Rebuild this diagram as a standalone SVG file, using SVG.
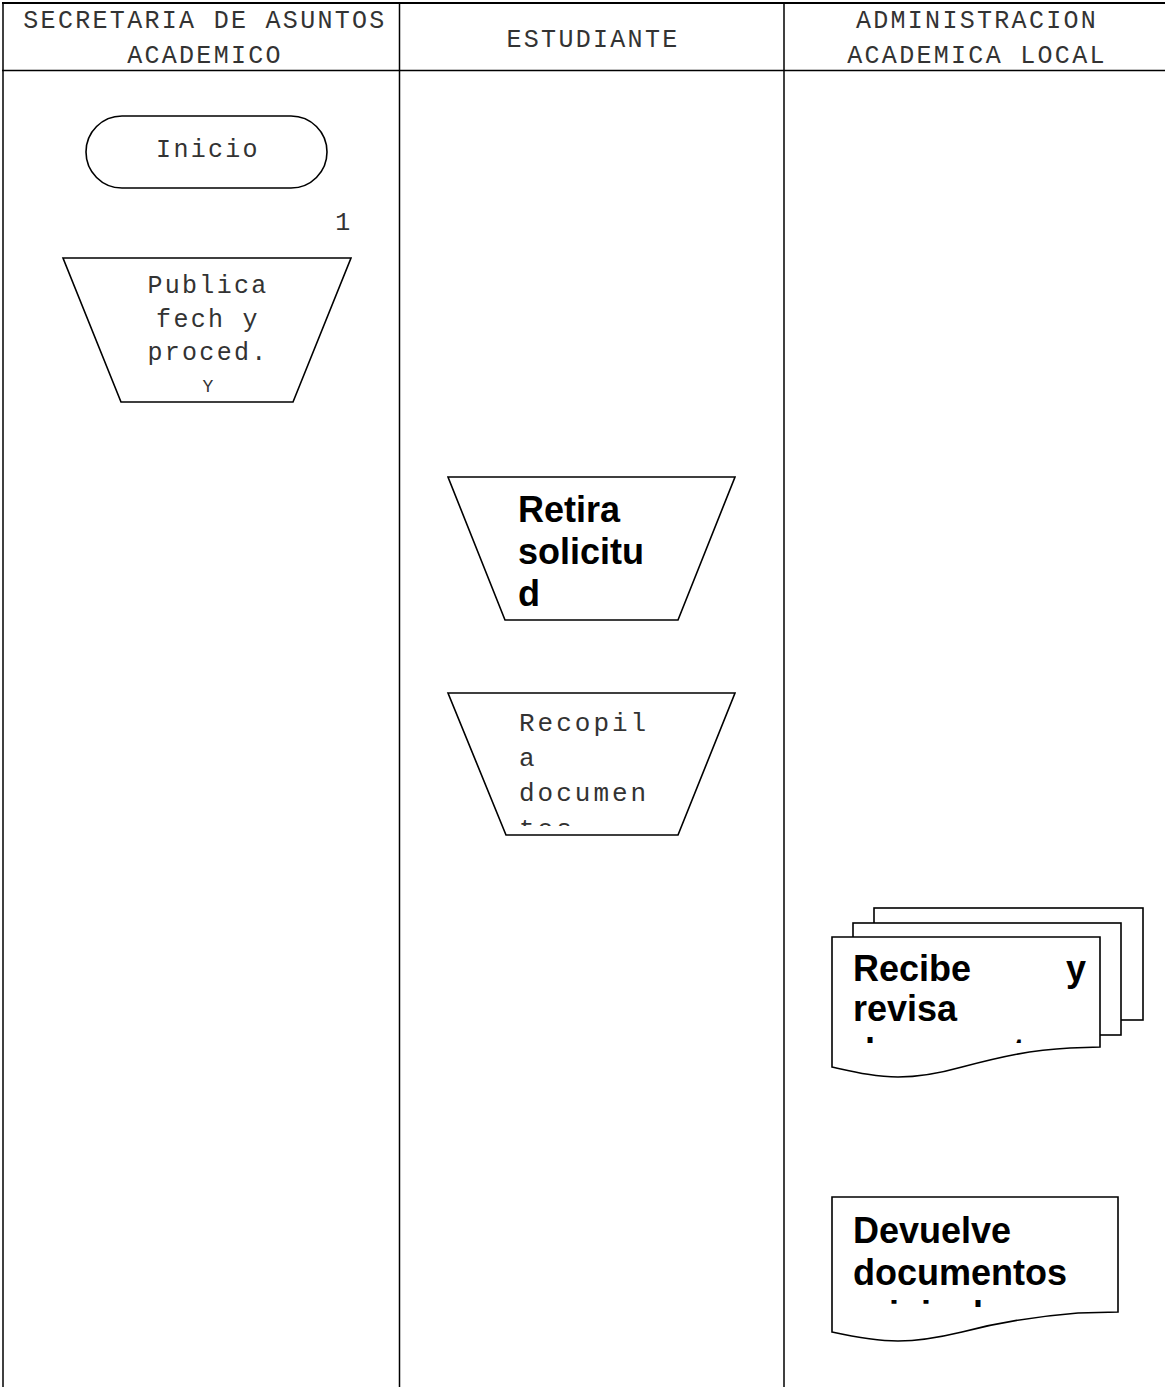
<svg xmlns="http://www.w3.org/2000/svg" width="1165" height="1387" viewBox="0 0 1165 1387">
  <style>
    .lane { stroke: #000; stroke-width: 1.5; fill: none; }
    .lane-top { stroke: #000; stroke-width: 2.2; fill: none; }
    .shape { stroke: #000; stroke-width: 1.6; fill: #fff; stroke-linejoin: miter; }
    .mono { font-family: "Liberation Mono", "DejaVu Sans Mono", monospace; font-size: 25px; letter-spacing: 2.3px; fill: #333; }
    .mono-l { font-family: "Liberation Mono", "DejaVu Sans Mono", monospace; font-size: 26px; letter-spacing: 3px; fill: #333; }
    .bold { font-family: "Liberation Sans", Arial, sans-serif; font-size: 36px; font-weight: bold; fill: #000; }
    .mid { text-anchor: middle; }
  </style>
  <defs>
    <clipPath id="clip-recopila"><rect x="500" y="700" width="200" height="126"/></clipPath>
    <clipPath id="clip-recibe"><rect x="840" y="945" width="255" height="98"/></clipPath>
    <clipPath id="clip-devuelve"><rect x="840" y="1200" width="275" height="107"/></clipPath>
  </defs>

  <rect x="0" y="0" width="1165" height="1387" fill="#fff"/>

  <!-- swimlane frame -->
  <g id="lanes">
    <line class="lane-top" x1="2" y1="3" x2="1165" y2="3"/>
    <line class="lane" x1="2" y1="70.5" x2="1165" y2="70.5"/>
    <line class="lane" x1="3" y1="2" x2="3" y2="1387"/>
    <line class="lane" x1="399.5" y1="2" x2="399.5" y2="1387"/>
    <line class="lane" x1="784" y1="2" x2="784" y2="1387"/>
    <text class="mono mid" x="205" y="28">SECRETARIA DE ASUNTOS</text>
    <text class="mono mid" x="205" y="63">ACADEMICO</text>
    <text class="mono mid" x="593" y="47">ESTUDIANTE</text>
    <text class="mono mid" x="977" y="28">ADMINISTRACION</text>
    <text class="mono mid" x="977" y="63">ACADEMICA LOCAL</text>
  </g>

  <!-- connectors -->
  <g id="connectors"></g>

  <g id="inicio">
    <rect class="shape" x="86" y="116" width="241" height="72" rx="36" ry="36"/>
    <text class="mono mid" x="208" y="157">Inicio</text>
  </g>

  <g id="paso-1">
    <text class="mono mid" x="344" y="230">1</text>
  </g>

  <g id="publica">
    <polygon class="shape" points="63,258 351,258 293,402 121,402"/>
    <text class="mono mid" x="208" y="293">Publica</text>
    <text class="mono mid" x="208" y="327">fech y</text>
    <text class="mono mid" x="208" y="360">proced.</text>
    <text class="mono mid" x="208" y="392" style="font-size:18px;letter-spacing:0">Y</text>
  </g>

  <g id="retira">
    <polygon class="shape" points="448,477 735,477 678,620 505,620"/>
    <text class="bold" x="518" y="522">Retira</text>
    <text class="bold" x="518" y="564">solicitu</text>
    <text class="bold" x="518" y="606">d</text>
  </g>

  <g id="recopila">
    <polygon class="shape" points="448,693 735,693 678,835 506,835"/>
    <g clip-path="url(#clip-recopila)">
      <text class="mono-l" x="519" y="731">Recopil</text>
      <text class="mono-l" x="519" y="766">a</text>
      <text class="mono-l" x="519" y="801">documen</text>
      <text class="mono-l" x="519" y="837">tos</text>
    </g>
  </g>

  <g id="recibe">
    <rect class="shape" x="874" y="908" width="269" height="112"/>
    <rect class="shape" x="853" y="923" width="268" height="112"/>
    <path class="shape" d="M832,937 H1100 V1047 L1070,1048 C1030,1050 1000,1057 962,1067 C937,1074 915,1077 898,1077 C876,1077 855,1072 832,1067 Z"/>
    <g clip-path="url(#clip-recibe)">
      <text class="bold" x="853" y="981">Recibe</text>
      <text class="bold" x="1086" y="981" text-anchor="end">y</text>
      <text class="bold" x="853" y="1021">revisa</text>
      <text class="bold" x="853" y="1064">documentos</text>
    </g>
  </g>

  <g id="devuelve">
    <path class="shape" d="M832,1197 H1118 V1312 L1078,1313 C1040,1316 1000,1322 962,1332 C937,1338 915,1341 898,1341 C876,1341 855,1337 832,1332 Z"/>
    <g clip-path="url(#clip-devuelve)">
      <text class="bold" x="853" y="1243">Devuelve</text>
      <text class="bold" x="853" y="1285">documentos</text>
      <text class="bold" x="853" y="1327">originales</text>
    </g>
  </g>
</svg>
